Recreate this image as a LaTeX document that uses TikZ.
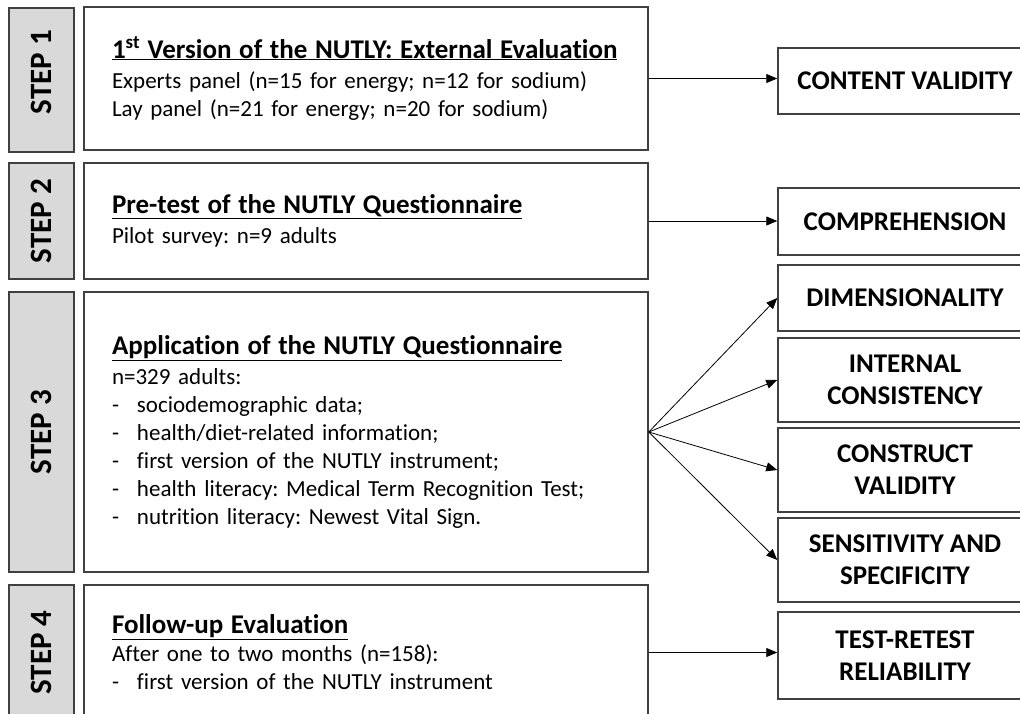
\documentclass[tikz,border=0pt]{standalone}
\usepackage{fontspec}
\setmainfont{Carlito}[Ligatures={TeX,NoCommon}]
\usetikzlibrary{arrows.meta,positioning}
\definecolor{edgegray}{HTML}{404040}
\definecolor{stepgray}{HTML}{D9D9D9}
\frenchspacing
\tikzset{
  stepbox/.style={draw=edgegray, fill=stepgray, line width=1.5pt, rotate=90, minimum height=65pt, inner sep=0pt, font=\fontsize{31}{36}\selectfont\bfseries},
  infobox/.style={draw=edgegray, line width=1.5pt, minimum width=564pt, inner xsep=28pt, inner ysep=0pt, text width=508pt, align=left, font=\fontsize{23}{28}\selectfont},
  resultbox/.style={draw=edgegray, line width=1.5pt, minimum width=254pt, inner sep=0pt, align=center, font=\fontsize{27}{32}\selectfont\bfseries},
  link/.style={black, line width=0.8pt, -{Triangle[length=11pt,width=9pt]}}
}
\newcommand{\heading}[1]{{\fontsize{27}{30}\selectfont\bfseries\underline{#1}}}
\newcommand{\dashitem}[1]{\makebox[25pt][l]{-}#1}
\begin{document}
\begin{tikzpicture}[x=1pt,y=-1pt]
\useasboundingbox (0,0) rectangle (1020,713);
% steps
\node[stepbox, minimum width=144pt] (s1) at (41.5,80) {\hspace*{16pt}STEP 1};
\node[stepbox, minimum width=116pt] (s2) at (41.5,221) {STEP 2};
\node[stepbox, minimum width=280pt] (s3) at (41.5,432) {STEP 3};
\node[stepbox, minimum width=135pt] (s4) at (41.5,652.5) {STEP 4};
\node[infobox, minimum height=143pt] (b1) at (366,78.5) {\heading{1\textsuperscript{st} Version of the NUTLY: External Evaluation}\\[2pt]
  Experts panel (n=15 for energy; n=12 for sodium)\\
  Lay panel (n=21 for energy; n=20 for sodium)};
\node[infobox, minimum height=116pt] (b2) at (366,221) {\heading{Pre-test of the NUTLY Questionnaire}\\[2pt]
  Pilot survey: n=9 adults};
\node[infobox, minimum height=280pt] (b3) at (366,432) {\heading{Application of the NUTLY Questionnaire}\\[2pt]
  n=329 adults:\\
  \dashitem{sociodemographic data;}\\
  \dashitem{health/diet-related information;}\\
  \dashitem{first version of the NUTLY instrument;}\\
  \dashitem{health literacy: Medical Term Recognition Test;}\\
  \dashitem{nutrition literacy: Newest Vital Sign.}};
\node[infobox, minimum height=135pt] (b4) at (366,652.5) {\heading{Follow-up Evaluation}\\
  After one to two months (n=158):\\
  \dashitem{first version of the NUTLY instrument}};
% outcomes
\node[resultbox, minimum height=66pt] (cv) at (905,81) {CONTENT VALIDITY};
\node[resultbox, minimum height=67pt] (comp) at (905,221.5) {COMPREHENSION};
\node[resultbox, minimum height=66pt] (dim) at (905,298) {DIMENSIONALITY};
\node[resultbox, minimum height=84pt] (ic) at (905,380) {INTERNAL\\CONSISTENCY};
\node[resultbox, minimum height=84pt] (cval) at (905,470) {CONSTRUCT\\VALIDITY};
\node[resultbox, minimum height=84pt] (sens) at (905,560) {SENSITIVITY AND\\SPECIFICITY};
\node[resultbox, minimum height=87pt] (trr) at (905,655.5) {TEST-RETEST\\RELIABILITY};
\draw[link] (b1.east) -- (b1.east -| cv.west);
\draw[link] (b2.east) -- (b2.east -| comp.west);
\foreach \r in {dim,ic,cval,sens}
  \draw[link] (b3.east) -- (\r.west);
\draw[link] (b4.east) -- (b4.east -| trr.west);
\end{tikzpicture}
\end{document}
